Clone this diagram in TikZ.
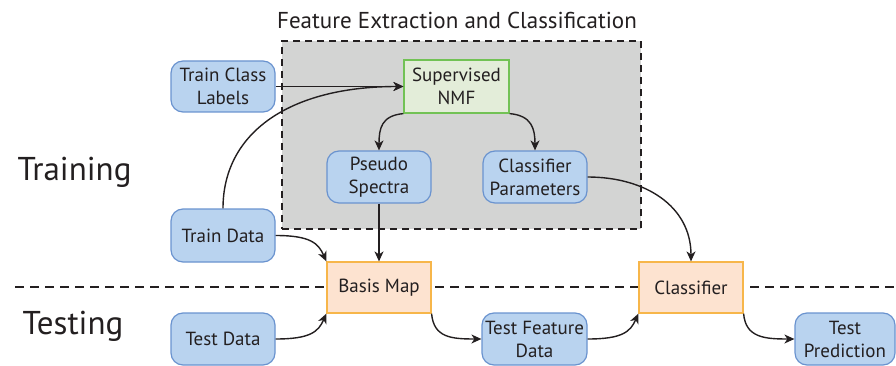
\documentclass[tikz,border=0pt]{standalone}
\usepackage{fontspec}
\setmainfont{PT Sans}
\usetikzlibrary{arrows.meta}
\definecolor{bfill}{HTML}{B9D3EF}
\definecolor{bline}{HTML}{6A93CF}
\definecolor{ofill}{HTML}{FDE3D0}
\definecolor{oline}{HTML}{F7B64A}
\definecolor{gfill}{HTML}{E3EDD9}
\definecolor{gline}{HTML}{72C255}
\definecolor{grey}{HTML}{D3D4D3}
\definecolor{ink}{HTML}{231F20}
\tikzset{
  lbl/.style={font=\fontsize{19}{23}\selectfont, text=ink, align=center, inner sep=0pt},
  bluebox/.style={lbl, draw=bline, fill=bfill, line width=1.2pt, rounded corners=12pt, minimum width=104pt, minimum height=52pt},
  orangebox/.style={lbl, draw=oline, fill=ofill, line width=1.2pt, minimum width=104pt, minimum height=51pt},
  greenbox/.style={lbl, draw=gline, fill=gfill, line width=1.2pt, minimum width=105pt, minimum height=53pt},
  conn/.style={draw=ink, line width=1.4pt, -{Stealth[length=10pt,width=9pt,inset=3pt]}},
  big/.style={font=\fontsize{33}{38}\selectfont, text=ink, inner sep=0pt, anchor=base},
}
\begin{document}
\begin{tikzpicture}[x=1pt,y=-1pt]
\useasboundingbox (0,0) rectangle (896,366);
% feature extraction region
\node[draw=ink, fill=grey, line width=1.3pt, dash pattern=on 7pt off 5pt, minimum width=359pt, minimum height=188pt, inner sep=0pt] (fe) at (461.5,135) {};
\node[font=\fontsize{23}{27}\selectfont, text=ink, inner sep=0pt, anchor=base] (fet) at (457,29) {Feature Extraction and Classification};
% separator
\coordinate (dl) at (15,287);
\coordinate (dr) at (896,287);
\draw[draw=ink, line width=1.4pt, dash pattern=on 9pt off 6pt] (dl) -- (dr);
% phase labels
\node[big] (train) at (74.5,181) {Training};
\node[big] (test) at (73,334) {Testing};
% nodes
\node[bluebox, minimum height=51pt] (tcl) at (223,86.5) {Train Class\\Labels};
\node[greenbox] (nmf) at (456.5,86.5) {Supervised\\NMF};
\node[bluebox] (ps) at (379,177) {Pseudo\\Spectra};
\node[bluebox] (cp) at (535,177) {Classifier\\Parameters};
\node[bluebox, minimum height=53pt] (td) at (223,235.5) {Train Data};
\node[orangebox] (bm) at (379,287.5) {Basis Map};
\node[orangebox] (cl) at (691,287.5) {Classifier};
\node[bluebox] (ted) at (223,339) {Test Data};
\node[bluebox, minimum width=105pt] (tfd) at (534.5,339) {Test Feature\\Data};
\node[bluebox, minimum width=100pt] (tp) at (845,339) {Test\\Prediction};
% connectors
\draw[conn] (tcl.east) -- (nmf.west);
\draw[conn] (td.north) .. controls +(0,-75) and +(-115,0) .. (nmf.west);
\draw[conn] (nmf.south west) .. controls +(-22,2) and +(0,-22) .. (ps.north);
\draw[conn] (nmf.south east) .. controls +(22,2) and +(0,-22) .. (cp.north);
\draw[conn] (ps.south) -- (bm.north);
\draw[conn] (cp.east) .. controls +(58,0) and +(0,-55) .. (cl.north);
\draw[conn] (td.east) .. controls +(35,0) and +(-8,-18) .. (bm.north west);
\draw[conn] (ted.east) .. controls +(35,0) and +(-8,18) .. (bm.south west);
\draw[conn] (bm.south east) .. controls +(2,24) and +(-30,0) .. (tfd.west);
\draw[conn] (tfd.east) .. controls +(35,0) and +(-8,18) .. (cl.south west);
\draw[conn] (cl.south east) .. controls +(2,24) and +(-30,0) .. (tp.west);
\end{tikzpicture}
\end{document}
